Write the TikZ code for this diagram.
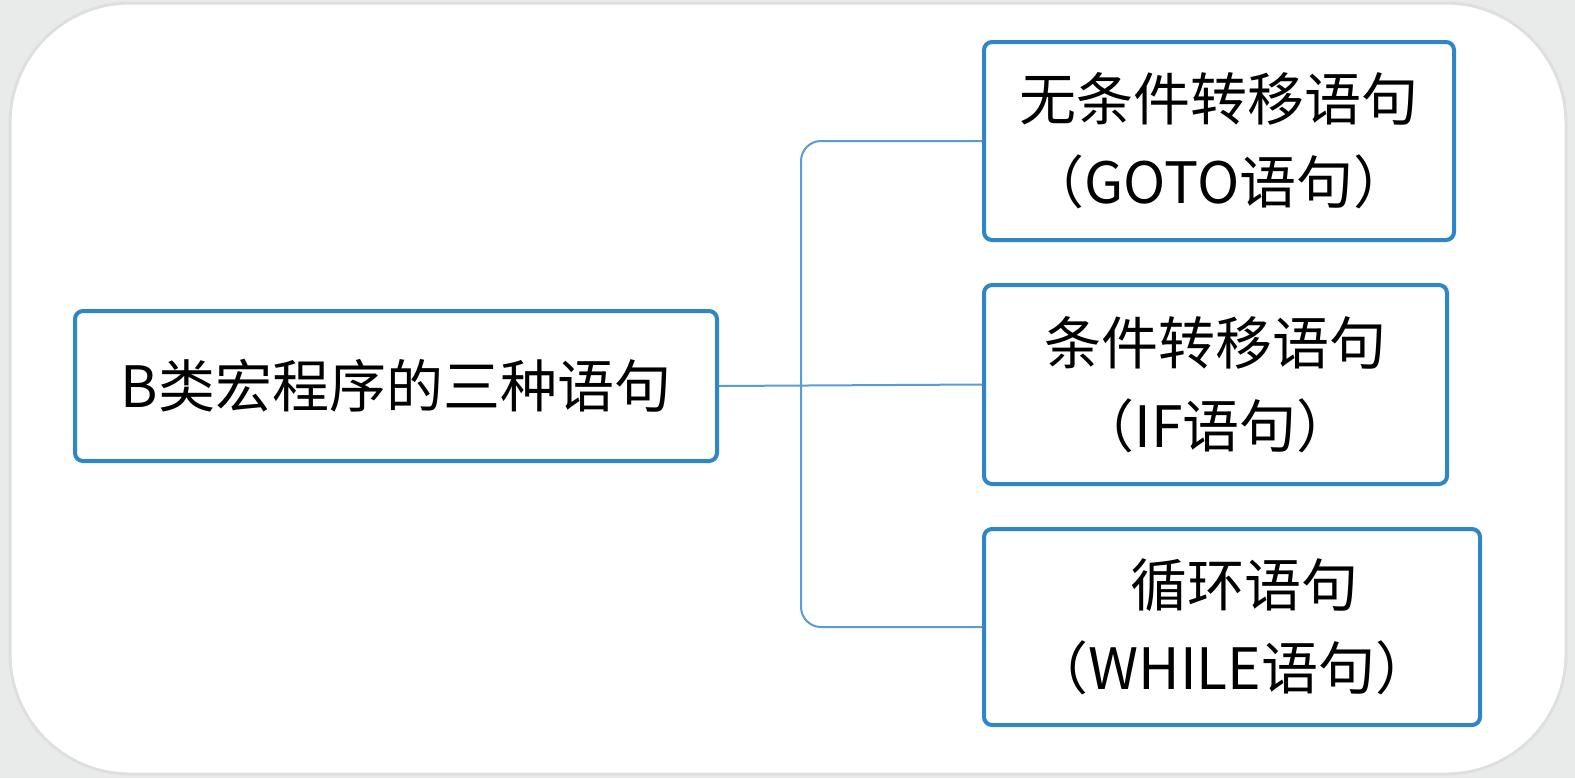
\documentclass[tikz,border=0pt]{standalone}
\usepackage{fontspec}
\setmainfont{Noto Sans CJK SC}
\definecolor{bggray}{HTML}{E9EBEB}
\definecolor{boxblue}{HTML}{2E86C8}
\definecolor{linkblue}{HTML}{5B9BD5}
\tikzset{
  stepbox/.style={draw=boxblue, line width=2pt, rounded corners=4pt, fill=white,
    align=center, font=\fontsize{28.5pt}{41.5pt}\selectfont, inner sep=0pt},
  link/.style={draw=linkblue, line width=1pt, rounded corners=10pt}
}
\begin{document}
\begin{tikzpicture}[x=0.5pt,y=-0.5pt]
\useasboundingbox (0,0) rectangle (1575,778);
\fill[bggray] (0,0) rectangle (1575,778);
\draw[gray!25, line width=1.5pt, fill=white, rounded corners=60pt] (10,3) rectangle (1566,774);
\node[stepbox, minimum width=321pt, minimum height=75pt] (root) at (396,386) {B类宏程序的三种语句};
\node[stepbox, minimum width=235pt, minimum height=99pt] (b1) at (1219,141) {无条件转移语句\\（GOTO语句）};
\node[stepbox, minimum width=231.5pt, minimum height=99.5pt] (b2) at (1215.5,384.5) {条件转移语句\\（IF语句）};
\node[stepbox, minimum width=248pt, minimum height=98pt] (b3) at (1232,627) {\hspace*{12pt}循环语句\\（WHILE语句）};
\coordinate (bx) at (801,385);
\draw[link] (root.east) -- (b2.west);
\draw[link] (b1.west) -- (bx |- b1.west) -- (bx |- b3.west) -- (b3.west);
\end{tikzpicture}
\end{document}
